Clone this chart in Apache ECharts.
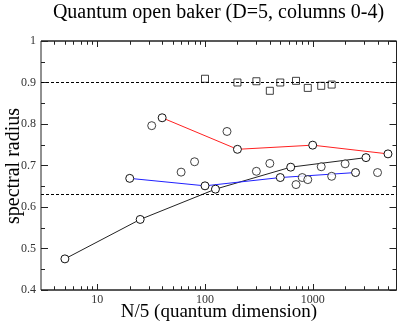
<!DOCTYPE html>
<html><head><meta charset="utf-8">
<script src="https://cdn.jsdelivr.net/npm/echarts@6/dist/echarts.min.js"></script>
<style>html,body{margin:0;padding:0;background:#fff}#c{width:399px;height:325px}</style>
</head><body><div id="c"></div>
<script>
const blackX = [5, 25, 125, 625, 3125];
const blackY = [0.475, 0.570, 0.643, 0.696, 0.719];
const redX = [40, 200, 1000, 5000];
const redY = [0.815, 0.739, 0.749, 0.728];
const blueX = [20, 100, 500, 2500];
const blueY = [0.669, 0.651, 0.671, 0.683];
const otherX = [32, 60, 80, 160, 300, 400, 700, 800, 900, 1200, 1500, 2000, 4000];
const otherY = [0.796, 0.684, 0.709, 0.782, 0.686, 0.705, 0.654, 0.671, 0.666, 0.697, 0.674, 0.704, 0.683];
const squareX = [100, 200, 300, 400, 500, 700, 900, 1200, 1500];
const squareY = [0.909, 0.900, 0.903, 0.880, 0.900, 0.904, 0.887, 0.892, 0.895];
const refLines = [0.895, 0.633];
const xMajorTicks = [10, 100, 1000];
const xMinorTicks = [4,5,6,7,8,9,20,30,40,50,60,70,80,90,200,300,400,500,600,700,800,900,2000,3000,4000,5000];

const zip = (a, b) => a.map((v, i) => [v, b[i]]);
const SERIF = '"Liberation Serif", "DejaVu Serif", serif';
const tickColor = '#222';
const Y_MIN = 0.4, Y_MAX = 1;

const chart = echarts.init(document.getElementById('c'), null, {renderer: 'canvas'});

const markerStyle = {color: '#fff', borderColor: '#111', borderWidth: 1};

const lineSeries = (x, y, color) => ({
  type: 'line',
  data: zip(x, y),
  symbol: 'circle',
  symbolSize: 8,
  itemStyle: markerStyle,
  lineStyle: {color: color, width: 1},
  z: 3,
  silent: true
});

const textGraphics = [
  {type: 'text', x: 218.5, y: 13, style: {text: 'Quantum open baker (D=5, columns 0-4)', font: '20px ' + SERIF, fill: '#000', textAlign: 'center', textVerticalAlign: 'middle'}},
  {type: 'text', x: 219, y: 312, style: {text: 'N/5 (quantum dimension)', font: '19px ' + SERIF, fill: '#000', textAlign: 'center', textVerticalAlign: 'middle'}},
  {type: 'text', x: 14, y: 166, rotation: Math.PI / 2, style: {text: 'spectral radius', font: '20px ' + SERIF, fill: '#000', textAlign: 'center', textVerticalAlign: 'middle'}}
];

chart.setOption({
  animation: false,
  grid: {left: 41, right: 2.5, top: 41, bottom: 35, show: true, borderColor: tickColor, borderWidth: 1},
  graphic: textGraphics,
  xAxis: {
    type: 'log', logBase: 10, min: 3, max: 6000,
    axisLine: {show: false},
    splitLine: {show: false},
    axisTick: {show: false},
    axisLabel: {
      customValues: xMajorTicks,
      margin: 4,
      color: '#333',
      fontFamily: SERIF, fontSize: 12,
      formatter: v => String(Math.round(v))
    }
  },
  yAxis: [
    {
      type: 'value', min: Y_MIN, max: Y_MAX, interval: 0.1, position: 'left',
      axisLine: {show: false},
      axisTick: {show: true, inside: true, length: 7, lineStyle: {color: tickColor}},
      minorTick: {show: true, splitNumber: 2, length: 4, lineStyle: {color: tickColor}},
      splitLine: {show: false},
      axisLabel: {margin: 5, color: '#333', fontFamily: SERIF, fontSize: 12}
    },
    {
      type: 'value', min: Y_MIN, max: Y_MAX, interval: 0.1, position: 'right',
      axisLine: {show: false},
      axisTick: {show: true, inside: true, length: 7, lineStyle: {color: tickColor}},
      minorTick: {show: true, splitNumber: 2, length: 4, lineStyle: {color: tickColor}},
      splitLine: {show: false},
      axisLabel: {show: false}
    }
  ],
  series: [
    lineSeries(blackX, blackY, '#222'),
    lineSeries(redX, redY, '#ff2020'),
    lineSeries(blueX, blueY, '#2020ff'),
    {
      type: 'scatter',
      data: zip(otherX, otherY),
      symbol: 'circle',
      symbolSize: 8,
      itemStyle: markerStyle,
      z: 4,
      silent: true
    },
    {
      type: 'scatter',
      data: zip(squareX, squareY),
      symbol: 'rect',
      symbolSize: 7,
      itemStyle: markerStyle,
      z: 4,
      silent: true,
      markLine: {
        silent: true,
        symbol: 'none',
        label: {show: false},
        lineStyle: {color: '#000', type: [3, 2], width: 1},
        data: refLines.map(v => ({yAxis: v}))
      }
    }
  ]
});

// x-axis tick marks (inside, bottom and top edges) as one comb-shaped polyline per edge,
// positioned with the chart's own log axis
const allTicks = xMajorTicks.map(v => [v, 6]).concat(xMinorTicks.map(v => [v, 3.5])).sort((a, b) => a[0] - b[0]);
const comb = (yVal, dir) => {
  const pts = [];
  const left = chart.convertToPixel({gridIndex: 0}, [3, yVal]);
  const right = chart.convertToPixel({gridIndex: 0}, [6000, yVal]);
  const y0 = left[1];
  pts.push([left[0], y0]);
  allTicks.forEach(([v, len]) => {
    const p = chart.convertToPixel({gridIndex: 0}, [v, yVal]);
    const x = Math.round(p[0]) + 0.5;
    pts.push([x, y0], [x, y0 + dir * len], [x, y0]);
  });
  pts.push([right[0], y0]);
  return {type: 'polyline', silent: true, shape: {points: pts}, style: {stroke: tickColor, lineWidth: 1, fill: null}};
};
chart.setOption({graphic: textGraphics.concat([comb(Y_MIN, -1), comb(Y_MAX, 1)])});
</script>
</body></html>
